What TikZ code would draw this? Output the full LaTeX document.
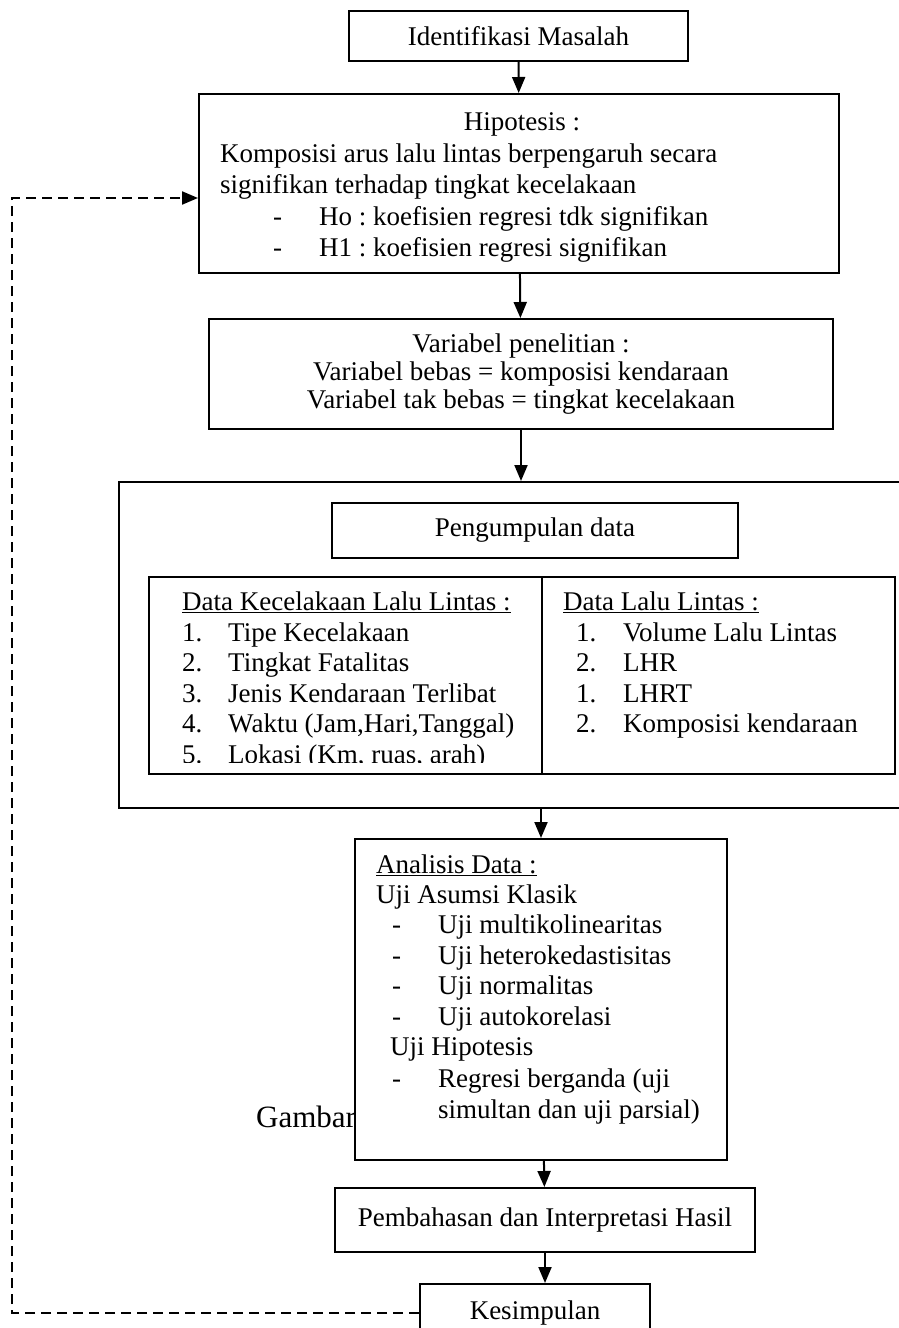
\documentclass[tikz,border=0pt]{standalone}
\usepackage{fontspec}
\setmainfont{Liberation Serif}
\usetikzlibrary{arrows.meta}
\tikzset{
  kotak/.style={draw, line width=2pt, anchor=north west, inner sep=0pt, fill=white},
  teks/.style={anchor=base west, inner sep=0pt},
  panah/.style={line width=2pt, -{Triangle[length=16pt,width=13pt]}},
  putus/.style={line width=2.2pt, dash pattern=on 10pt off 6pt, -{Triangle[length=16pt,width=13pt]}}
}
\frenchspacing
\begin{document}
\begin{tikzpicture}[x=1pt, y=-1pt, font=\fontsize{27}{30}\selectfont]
\useasboundingbox (0,0) rectangle (899,1328);

% identifikasi dan hipotesis
\node[kotak, minimum width=339, minimum height=50] (identifikasi) at (348,10) {Identifikasi Masalah};
\node[kotak, minimum width=640, minimum height=179] (hipotesis) at (198,93) {};
\node[anchor=base, inner sep=0pt] (hipjudul) at (522,130) {Hipotesis :};
\node[teks] (hip1) at (220,162) {Komposisi arus lalu lintas berpengaruh secara};
\node[teks] (hip2) at (220,193) {signifikan terhadap tingkat kecelakaan};
\node[teks] (strip1) at (273,225) {-};
\node[teks] (ho) at (319,225) {Ho : koefisien regresi tdk signifikan};
\node[teks] (strip2) at (273,256) {-};
\node[teks] (hsatu) at (319,256) {H1 : koefisien regresi signifikan};

% variabel
\node[kotak, minimum width=624, minimum height=110, align=center,
  font=\fontsize{27}{28}\selectfont] (variabel) at (208,318)
  {Variabel penelitian :\\Variabel bebas = komposisi kendaraan\\Variabel tak bebas = tingkat kecelakaan};

% pengumpulan data
\node[kotak, minimum width=800, minimum height=326] (kumpul) at (118,481) {};
\node[kotak, minimum width=406, minimum height=55] (pengumpulan) at (331,502) {Pengumpulan data};
\node[kotak, minimum width=746, minimum height=197] (tabel) at (148,576) {};
\coordinate (sekat) at (542,576);
\draw[line width=2pt] (sekat) -- (sekat |- tabel.south);

\node[teks] (kiri0) at (182,610) {\underline{Data Kecelakaan Lalu Lintas :}};
\node[teks] (kn1) at (182,641) {1.};
\node[teks] (ki1) at (228,641) {Tipe Kecelakaan};
\node[teks] (kn2) at (182,671) {2.};
\node[teks] (ki2) at (228,671) {Tingkat Fatalitas};
\node[teks] (kn3) at (182,702) {3.};
\node[teks] (ki3) at (228,702) {Jenis Kendaraan Terlibat};
\node[teks] (kn4) at (182,732) {4.};
\node[teks] (ki4) at (228,732) {Waktu (Jam,Hari,Tanggal)};
\begin{scope}
\clip (148,576) rectangle (542,762);
\node[teks] (kn5) at (182,763) {5.};
\node[teks] (ki5) at (228,763) {Lokasi (Km, ruas, arah)};
\end{scope}

\node[teks] (kanan0) at (563,610) {\underline{Data Lalu Lintas :}};
\node[teks] (nn1) at (576,641) {1.};
\node[teks] (ka1) at (623,641) {Volume Lalu Lintas};
\node[teks] (nn2) at (576,671) {2.};
\node[teks] (ka2) at (623,671) {LHR};
\node[teks] (nn3) at (576,702) {1.};
\node[teks] (ka3) at (623,702) {LHRT};
\node[teks] (nn4) at (576,732) {2.};
\node[teks] (ka4) at (623,732) {Komposisi kendaraan};

% analisis
\node[teks, font=\fontsize{31}{34}\selectfont] (gambar) at (256,1127) {Gambar};
\node[kotak, minimum width=372, minimum height=321] (analisis) at (354,838) {};
\node[teks] (an0) at (376,873) {\underline{Analisis Data :}};
\node[teks] (an1) at (376,903) {Uji Asumsi Klasik};
\node[teks] (sa1) at (392,933) {-};
\node[teks] (ua1) at (438,933) {Uji multikolinearitas};
\node[teks] (sa2) at (392,964) {-};
\node[teks] (ua2) at (438,964) {Uji heterokedastisitas};
\node[teks] (sa3) at (392,994) {-};
\node[teks] (ua3) at (438,994) {Uji normalitas};
\node[teks] (sa4) at (392,1025) {-};
\node[teks] (ua4) at (438,1025) {Uji autokorelasi};
\node[teks] (an2) at (390,1055) {Uji Hipotesis};
\node[teks] (sa5) at (392,1087) {-};
\node[teks] (ua5) at (438,1087) {Regresi berganda (uji};
\node[teks] (ua6) at (438,1118) {simultan dan uji parsial)};

% pembahasan dan kesimpulan
\node[kotak, minimum width=420, minimum height=64] (pembahasan) at (334,1187) {Pembahasan dan Interpretasi Hasil};
\node[kotak, minimum width=230, minimum height=58] (kesimpulan) at (419,1283) {Kesimpulan};

% panah
\draw[panah] (identifikasi) -- (hipotesis);
\draw[panah] (hipotesis) -- (variabel);
\draw[panah] (variabel.south) -- (variabel.south |- kumpul.north);
\draw[panah] (analisis.north |- kumpul.south) -- (analisis.north);
\draw[panah] (analisis) -- (pembahasan);
\draw[panah] (pembahasan.south) -- (pembahasan.south |- kesimpulan.north);

\coordinate (pojok) at (12,198);
\draw[putus] (kesimpulan.west) -| (pojok) -- (pojok -| hipotesis.west);
\end{tikzpicture}
\end{document}
